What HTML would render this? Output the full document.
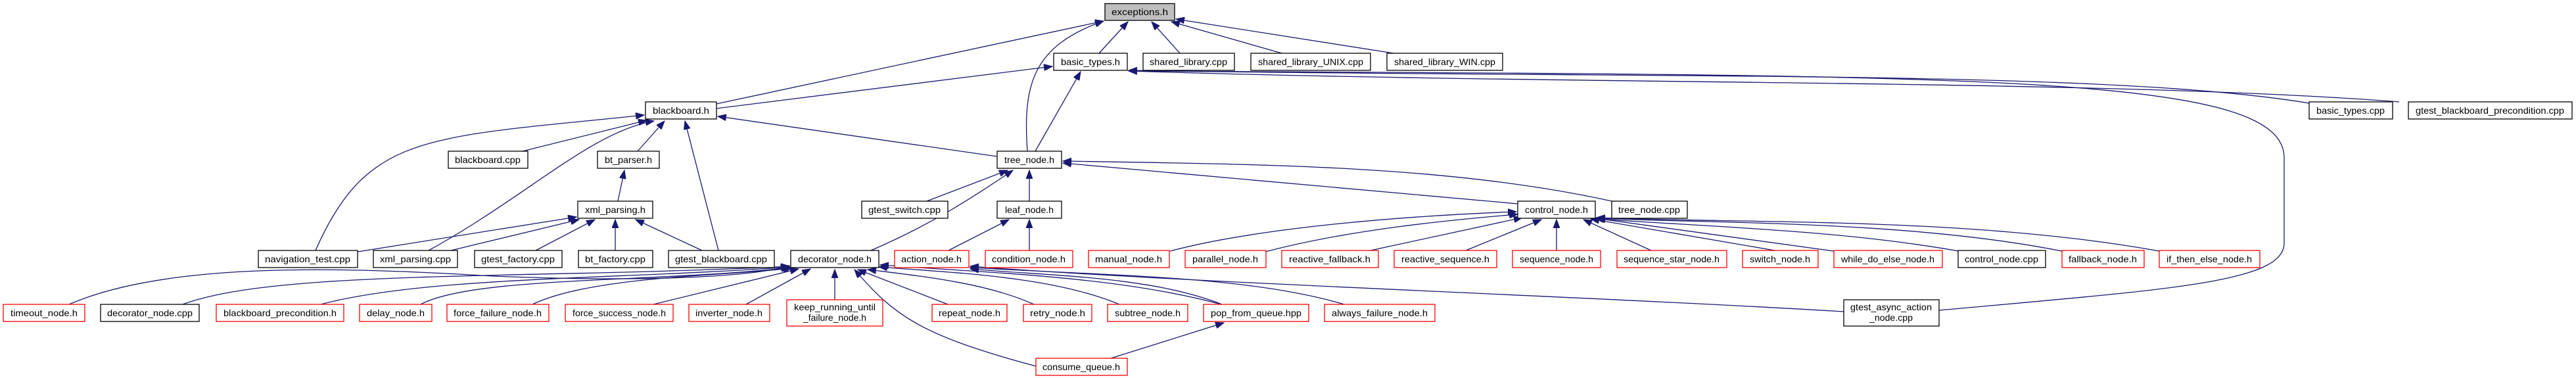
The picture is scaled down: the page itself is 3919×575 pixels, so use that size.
<!DOCTYPE html>
<html><head><meta charset="utf-8"><style>
html,body{margin:0;padding:0;background:#fff;}
svg{display:block;}
text{font-family:"Liberation Sans",sans-serif;font-size:14px;fill:#000;}
.n{fill:#fff;stroke:#000;stroke-width:1.3;}
.r{fill:#fff;stroke:#ff0000;stroke-width:1.3;}
.g{fill:#bfbfbf;stroke:#000;stroke-width:1.3;}
.e{fill:none;stroke:#191970;stroke-width:1.3;marker-end:url(#a);}
</style></head><body>
<svg width="3919" height="575" viewBox="0 0 3919 575" xmlns="http://www.w3.org/2000/svg">
<defs><marker id="a" markerUnits="userSpaceOnUse" markerWidth="14" markerHeight="10" refX="13" refY="5" orient="auto"><path d="M0,0 L13,5 L0,10 z" fill="#191970" stroke="#191970"/></marker></defs>

<!-- edges -->
<path class="e" d="M1672,81 L1716,33"/>
<path class="e" d="M1795,81 L1752,33"/>
<path class="e" d="M1950,81 L1782,33"/>
<path class="e" d="M2120,81 L1789,29"/>
<path class="e" d="M1090,158 L1679,32"/>
<path class="e" d="M1563,230 C1556,130 1570,70 1679,32"/>
<path class="e" d="M1090,165 L1601,101"/>
<path class="e" d="M1575,230 L1644,109"/>
<path class="e" d="M3513,157 C3200,105 2500,120 1717,107"/>
<path class="e" d="M3650,155 C3200,120 2400,130 1717,108"/>
<path class="e" d="M2950,472 C3300,440 3475,430 3475,370 L3475,240 C3475,110 3000,115 1717,108"/>
<path class="e" d="M795,230 L984,183"/>
<path class="e" d="M970,230 L1011,184"/>
<path class="e" d="M480,381 C560,200 650,210 980,175"/>
<path class="e" d="M652,381 C800,300 900,200 995,184"/>
<path class="e" d="M1093,381 L1042,184"/>
<path class="e" d="M1517,238 L1092,177"/>
<path class="e" d="M940,306 L950,259"/>
<path class="e" d="M544,383 L877,330"/>
<path class="e" d="M686,381 L881,334"/>
<path class="e" d="M815,381 L905,334"/>
<path class="e" d="M936,381 L936,334"/>
<path class="e" d="M1068,381 L967,334"/>
<path class="e" d="M1410,306 L1533,259"/>
<path class="e" d="M1566,306 L1566,259"/>
<path class="e" d="M1325,381 C1420,340 1480,300 1541,259"/>
<path class="e" d="M2309,310 L1617,248"/>
<path class="e" d="M2452,306 C2200,250 1900,250 1617,245"/>
<path class="e" d="M1443,381 L1535,334"/>
<path class="e" d="M1566,381 L1566,334"/>
<path class="e" d="M1780,382 C1900,350 2100,330 2307,322"/>
<path class="e" d="M1925,383 C2050,350 2200,335 2309,326"/>
<path class="e" d="M2085,381 L2316,331"/>
<path class="e" d="M2230,381 L2345,334"/>
<path class="e" d="M2368,381 L2368,334"/>
<path class="e" d="M2512,381 L2409,334"/>
<path class="e" d="M2700,381 L2420,333"/>
<path class="e" d="M2790,382 L2427,332"/>
<path class="e" d="M2980,382 C2800,350 2600,345 2429,333"/>
<path class="e" d="M3137,382 C2900,335 2600,340 2429,332"/>
<path class="e" d="M3285,382 C3000,330 2650,340 2429,331"/>
<path class="e" d="M105,463 C250,400 500,405 750,420 C1000,430 1150,420 1201,404"/>
<path class="e" d="M278,463 C420,410 800,425 1201,405"/>
<path class="e" d="M488,463 C650,420 950,425 1201,406"/>
<path class="e" d="M640,463 C720,420 1000,430 1202,407"/>
<path class="e" d="M810,463 C900,420 1100,420 1205,408"/>
<path class="e" d="M994,463 L1215,409"/>
<path class="e" d="M1135,463 L1233,409"/>
<path class="e" d="M1270,456 L1270,410"/>
<path class="e" d="M1442,463 L1305,410"/>
<path class="e" d="M1573,463 C1500,430 1400,420 1320,410"/>
<path class="e" d="M1703,463 C1600,420 1450,415 1337,406"/>
<path class="e" d="M1858,463 C1700,420 1500,415 1339,403"/>
<path class="e" d="M1576,557 C1400,510 1360,480 1300,410"/>
<path class="e" d="M1859,463 C1750,420 1600,420 1476,409"/>
<path class="e" d="M2045,463 C1900,420 1700,420 1476,407"/>
<path class="e" d="M2805,474 C2400,450 1800,430 1476,405"/>
<path class="e" d="M1690,545 L1862,491"/>

<!-- nodes -->
<rect class="g" x="1681" y="5.5" width="106" height="25.5"/><text x="1734" y="23" text-anchor="middle" textLength="86" lengthAdjust="spacingAndGlyphs">exceptions.h</text>

<rect class="n" x="1603" y="81" width="112" height="26"/><text x="1659" y="99" text-anchor="middle" textLength="90" lengthAdjust="spacingAndGlyphs">basic_types.h</text>
<rect class="n" x="1739" y="81" width="139" height="26"/><text x="1808" y="99" text-anchor="middle" textLength="118" lengthAdjust="spacingAndGlyphs">shared_library.cpp</text>
<rect class="n" x="1903" y="81" width="182" height="26"/><text x="1994" y="99" text-anchor="middle" textLength="160" lengthAdjust="spacingAndGlyphs">shared_library_UNIX.cpp</text>
<rect class="n" x="2110" y="81" width="176" height="26"/><text x="2198" y="99" text-anchor="middle" textLength="154" lengthAdjust="spacingAndGlyphs">shared_library_WIN.cpp</text>

<rect class="n" x="982" y="155" width="108" height="26"/><text x="1036" y="173" text-anchor="middle" textLength="86" lengthAdjust="spacingAndGlyphs">blackboard.h</text>
<rect class="n" x="3513" y="155" width="127" height="26"/><text x="3576" y="173" text-anchor="middle" textLength="104" lengthAdjust="spacingAndGlyphs">basic_types.cpp</text>
<rect class="n" x="3664" y="155" width="249" height="26"/><text x="3788" y="173" text-anchor="middle" textLength="226" lengthAdjust="spacingAndGlyphs">gtest_blackboard_precondition.cpp</text>

<rect class="n" x="682" y="230" width="121" height="26"/><text x="742" y="248" text-anchor="middle" textLength="100" lengthAdjust="spacingAndGlyphs">blackboard.cpp</text>
<rect class="n" x="909" y="230" width="94" height="26"/><text x="956" y="248" text-anchor="middle" textLength="72" lengthAdjust="spacingAndGlyphs">bt_parser.h</text>
<rect class="n" x="1517" y="230" width="98" height="26"/><text x="1566" y="248" text-anchor="middle" textLength="76" lengthAdjust="spacingAndGlyphs">tree_node.h</text>

<rect class="n" x="879" y="306" width="114" height="26"/><text x="936" y="324" text-anchor="middle" textLength="92" lengthAdjust="spacingAndGlyphs">xml_parsing.h</text>
<rect class="n" x="1311" y="306" width="131" height="26"/><text x="1376" y="324" text-anchor="middle" textLength="110" lengthAdjust="spacingAndGlyphs">gtest_switch.cpp</text>
<rect class="n" x="1517" y="306" width="98" height="26"/><text x="1566" y="324" text-anchor="middle" textLength="74" lengthAdjust="spacingAndGlyphs">leaf_node.h</text>
<rect class="n" x="2309" y="306" width="118" height="26"/><text x="2368" y="324" text-anchor="middle" textLength="96" lengthAdjust="spacingAndGlyphs">control_node.h</text>
<rect class="n" x="2452" y="306" width="115" height="26"/><text x="2509" y="324" text-anchor="middle" textLength="94" lengthAdjust="spacingAndGlyphs">tree_node.cpp</text>

<rect class="n" x="393" y="381" width="151" height="26"/><text x="468" y="399" text-anchor="middle" textLength="130" lengthAdjust="spacingAndGlyphs">navigation_test.cpp</text>
<rect class="n" x="568" y="381" width="128" height="26"/><text x="632" y="399" text-anchor="middle" textLength="108" lengthAdjust="spacingAndGlyphs">xml_parsing.cpp</text>
<rect class="n" x="722" y="381" width="133" height="26"/><text x="788" y="399" text-anchor="middle" textLength="112" lengthAdjust="spacingAndGlyphs">gtest_factory.cpp</text>
<rect class="n" x="880" y="381" width="113" height="26"/><text x="936" y="399" text-anchor="middle" textLength="92" lengthAdjust="spacingAndGlyphs">bt_factory.cpp</text>
<rect class="n" x="1017" y="381" width="161" height="26"/><text x="1097" y="399" text-anchor="middle" textLength="140" lengthAdjust="spacingAndGlyphs">gtest_blackboard.cpp</text>
<rect class="n" x="1203" y="381" width="134" height="26"/><text x="1270" y="399" text-anchor="middle" textLength="112" lengthAdjust="spacingAndGlyphs">decorator_node.h</text>
<rect class="r" x="1361" y="381" width="113" height="26"/><text x="1417" y="399" text-anchor="middle" textLength="92" lengthAdjust="spacingAndGlyphs">action_node.h</text>
<rect class="r" x="1499" y="381" width="133" height="26"/><text x="1565" y="399" text-anchor="middle" textLength="112" lengthAdjust="spacingAndGlyphs">condition_node.h</text>
<rect class="r" x="1656" y="381" width="123" height="26"/><text x="1717" y="399" text-anchor="middle" textLength="102" lengthAdjust="spacingAndGlyphs">manual_node.h</text>
<rect class="r" x="1803" y="381" width="123" height="26"/><text x="1864" y="399" text-anchor="middle" textLength="100" lengthAdjust="spacingAndGlyphs">parallel_node.h</text>
<rect class="r" x="1950" y="381" width="147" height="26"/><text x="2023" y="399" text-anchor="middle" textLength="124" lengthAdjust="spacingAndGlyphs">reactive_fallback.h</text>
<rect class="r" x="2121" y="381" width="156" height="26"/><text x="2199" y="399" text-anchor="middle" textLength="134" lengthAdjust="spacingAndGlyphs">reactive_sequence.h</text>
<rect class="r" x="2301" y="381" width="134" height="26"/><text x="2368" y="399" text-anchor="middle" textLength="112" lengthAdjust="spacingAndGlyphs">sequence_node.h</text>
<rect class="r" x="2460" y="381" width="167" height="26"/><text x="2543" y="399" text-anchor="middle" textLength="146" lengthAdjust="spacingAndGlyphs">sequence_star_node.h</text>
<rect class="r" x="2651" y="381" width="115" height="26"/><text x="2708" y="399" text-anchor="middle" textLength="92" lengthAdjust="spacingAndGlyphs">switch_node.h</text>
<rect class="r" x="2790" y="381" width="165" height="26"/><text x="2872" y="399" text-anchor="middle" textLength="142" lengthAdjust="spacingAndGlyphs">while_do_else_node.h</text>
<rect class="n" x="2979" y="381" width="133" height="26"/><text x="3045" y="399" text-anchor="middle" textLength="112" lengthAdjust="spacingAndGlyphs">control_node.cpp</text>
<rect class="r" x="3137" y="381" width="125" height="26"/><text x="3199" y="399" text-anchor="middle" textLength="104" lengthAdjust="spacingAndGlyphs">fallback_node.h</text>
<rect class="r" x="3285" y="381" width="153" height="26"/><text x="3361" y="399" text-anchor="middle" textLength="130" lengthAdjust="spacingAndGlyphs">if_then_else_node.h</text>

<rect class="r" x="5" y="463" width="124" height="26"/><text x="67" y="481" text-anchor="middle" textLength="102" lengthAdjust="spacingAndGlyphs">timeout_node.h</text>
<rect class="n" x="153" y="463" width="150" height="26"/><text x="228" y="481" text-anchor="middle" textLength="130" lengthAdjust="spacingAndGlyphs">decorator_node.cpp</text>
<rect class="r" x="329" y="463" width="194" height="26"/><text x="426" y="481" text-anchor="middle" textLength="172" lengthAdjust="spacingAndGlyphs">blackboard_precondition.h</text>
<rect class="r" x="547" y="463" width="110" height="26"/><text x="602" y="481" text-anchor="middle" textLength="88" lengthAdjust="spacingAndGlyphs">delay_node.h</text>
<rect class="r" x="680" y="463" width="155" height="26"/><text x="757" y="481" text-anchor="middle" textLength="134" lengthAdjust="spacingAndGlyphs">force_failure_node.h</text>
<rect class="r" x="860" y="463" width="164" height="26"/><text x="942" y="481" text-anchor="middle" textLength="142" lengthAdjust="spacingAndGlyphs">force_success_node.h</text>
<rect class="r" x="1048" y="463" width="123" height="26"/><text x="1109" y="481" text-anchor="middle" textLength="102" lengthAdjust="spacingAndGlyphs">inverter_node.h</text>
<rect class="r" x="1197" y="456" width="146" height="40"/><text x="1270" y="472" text-anchor="middle" textLength="124" lengthAdjust="spacingAndGlyphs">keep_running_until</text><text x="1270" y="488" text-anchor="middle" textLength="96" lengthAdjust="spacingAndGlyphs">_failure_node.h</text>
<rect class="r" x="1418" y="463" width="114" height="26"/><text x="1475" y="481" text-anchor="middle" textLength="94" lengthAdjust="spacingAndGlyphs">repeat_node.h</text>
<rect class="r" x="1557" y="463" width="104" height="26"/><text x="1609" y="481" text-anchor="middle" textLength="84" lengthAdjust="spacingAndGlyphs">retry_node.h</text>
<rect class="r" x="1685" y="463" width="122" height="26"/><text x="1746" y="481" text-anchor="middle" textLength="100" lengthAdjust="spacingAndGlyphs">subtree_node.h</text>
<rect class="r" x="1831" y="463" width="160" height="26"/><text x="1911" y="481" text-anchor="middle" textLength="138" lengthAdjust="spacingAndGlyphs">pop_from_queue.hpp</text>
<rect class="r" x="2015" y="463" width="168" height="26"/><text x="2099" y="481" text-anchor="middle" textLength="146" lengthAdjust="spacingAndGlyphs">always_failure_node.h</text>
<rect class="n" x="2805" y="456" width="145" height="40"/><text x="2877" y="472" text-anchor="middle" textLength="124" lengthAdjust="spacingAndGlyphs">gtest_async_action</text><text x="2877" y="488" text-anchor="middle" textLength="66" lengthAdjust="spacingAndGlyphs">_node.cpp</text>

<rect class="r" x="1576" y="545" width="139" height="26"/><text x="1645" y="563" text-anchor="middle" textLength="118" lengthAdjust="spacingAndGlyphs">consume_queue.h</text>
</svg>
</body></html>
